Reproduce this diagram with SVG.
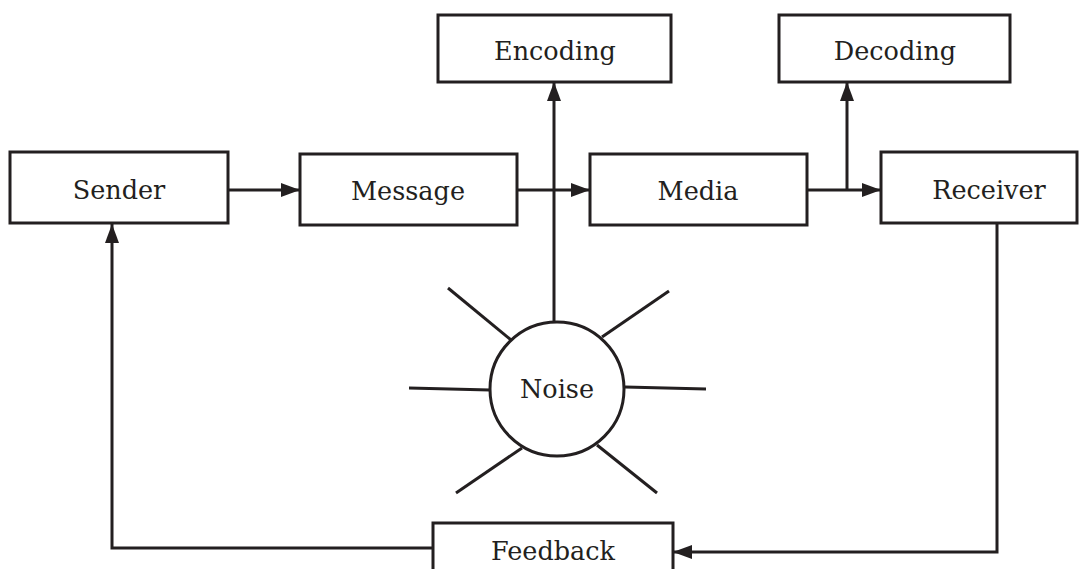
<svg xmlns="http://www.w3.org/2000/svg" width="1083" height="569" viewBox="0 0 1083 569">
<defs>
<marker id="ah" viewBox="0 0 19 14" refX="19" refY="7" markerWidth="19" markerHeight="14" markerUnits="userSpaceOnUse" orient="auto">
<path d="M0,0 L19,7 L0,14 Z" fill="#231f20"/>
</marker>
<style>
.box{fill:#fff;stroke:#231f20;stroke-width:3}
.lbl{font-family:"DejaVu Serif","Liberation Serif",serif;font-size:25.5px;fill:#231f20;text-anchor:middle}
.ln{fill:none;stroke:#231f20;stroke-width:3}
</style>
</defs>
<rect width="1083" height="569" fill="#fff"/>
<g id="connectors">
<line class="ln" x1="228" y1="190" x2="300" y2="190" marker-end="url(#ah)"/>
<line class="ln" x1="517" y1="190" x2="590" y2="190" marker-end="url(#ah)"/>
<line class="ln" x1="807" y1="190" x2="881" y2="190" marker-end="url(#ah)"/>
<line class="ln" x1="554" y1="322" x2="554" y2="82" marker-end="url(#ah)"/>
<line class="ln" x1="847" y1="190" x2="847" y2="82" marker-end="url(#ah)"/>
<polyline class="ln" points="997,223 997,552 673,552" marker-end="url(#ah)"/>
<polyline class="ln" points="433,548 112,548 112,224" marker-end="url(#ah)"/>
</g>
<g id="sender"><rect class="box" x="10" y="152" width="218" height="71"/><text class="lbl" x="119" y="199">Sender</text></g>
<g id="message"><rect class="box" x="300" y="154" width="217" height="71"/><text class="lbl" x="408" y="200">Message</text></g>
<g id="media"><rect class="box" x="590" y="154" width="217" height="71"/><text class="lbl" x="698" y="200">Media</text></g>
<g id="receiver"><rect class="box" x="881" y="152" width="196" height="71"/><text class="lbl" x="989" y="199">Receiver</text></g>
<g id="encoding"><rect class="box" x="438" y="15" width="233" height="67"/><text class="lbl" x="555" y="60">Encoding</text></g>
<g id="decoding"><rect class="box" x="779" y="15" width="231" height="67"/><text class="lbl" x="895" y="60">Decoding</text></g>
<g id="feedback"><rect class="box" x="433" y="523" width="240" height="72"/><text class="lbl" x="553" y="560">Feedback</text></g>
<g id="noise">
<line class="ln" x1="448" y1="288" x2="511" y2="340"/>
<line class="ln" x1="669" y1="291" x2="602" y2="337"/>
<line class="ln" x1="409" y1="388" x2="490" y2="390"/>
<line class="ln" x1="625" y1="387" x2="706" y2="389"/>
<line class="ln" x1="522" y1="448" x2="456" y2="493"/>
<line class="ln" x1="597" y1="445" x2="657" y2="493"/>
<circle class="box" cx="557" cy="389" r="67"/>
<text class="lbl" x="557" y="398">Noise</text>
</g>
</svg>
